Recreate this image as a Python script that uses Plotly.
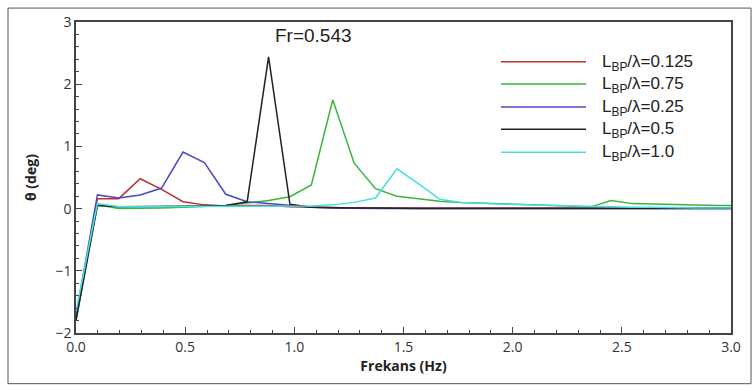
import plotly.graph_objects as go

# Frequency axis (Hz)
frekans = [0.0, 0.098, 0.196, 0.294, 0.392, 0.49, 0.588, 0.686, 0.784, 0.882,
           0.98, 1.078, 1.176, 1.274, 1.372, 1.47, 1.568, 1.666, 1.764, 1.862,
           1.96, 2.058, 2.156, 2.254, 2.352, 2.45, 2.548, 2.646, 2.744, 2.842,
           2.94, 3.0]

# Pitch response theta (deg) for each L_BP/lambda ratio
theta_0125 = [-1.78, 0.16, 0.16, 0.48, 0.31, 0.11, 0.06, 0.04, 0.05, 0.05,
              0.03, 0.02, 0.02, 0.01, 0.01, 0.01, 0.01, 0.01, 0.01, 0.01,
              0.01, 0.01, 0.01, 0.01, 0.01, 0.01, 0.01, 0.01, 0.01, 0.01,
              0.01, 0.01]
theta_075 = [-1.78, 0.06, 0.0, 0.0, 0.01, 0.02, 0.03, 0.05, 0.09, 0.13,
             0.19, 0.38, 1.75, 0.73, 0.32, 0.2, 0.16, 0.12, 0.1, 0.09,
             0.07, 0.06, 0.05, 0.04, 0.02, 0.13, 0.08, 0.07, 0.06, 0.05,
             0.05, 0.05]
theta_025 = [-1.72, 0.22, 0.17, 0.22, 0.33, 0.91, 0.74, 0.23, 0.11, 0.08,
             0.06, 0.02, 0.01, 0.0, 0.0, 0.0, 0.0, 0.0, 0.0, 0.0,
             0.0, 0.0, 0.0, 0.0, 0.0, 0.0, 0.0, 0.0, 0.0, 0.0,
             0.0, 0.0]
theta_05 = [-1.8, 0.05, 0.03, 0.03, 0.03, 0.03, 0.04, 0.05, 0.11, 2.44,
            0.07, 0.02, 0.01, 0.01, 0.01, 0.0, 0.0, 0.0, 0.0, 0.0,
            0.0, 0.0, 0.0, 0.0, 0.0, 0.0, 0.0, 0.0, 0.0, 0.0,
            0.0, 0.0]
theta_10 = [-1.65, 0.08, 0.03, 0.03, 0.03, 0.03, 0.03, 0.03, 0.03, 0.03,
            0.03, 0.04, 0.06, 0.1, 0.17, 0.64, 0.4, 0.15, 0.1, 0.08,
            0.07, 0.06, 0.05, 0.04, 0.03, 0.03, 0.02, 0.02, 0.01, 0.01,
            0.01, 0.01]

series_names = ["L<sub>BP</sub>/λ=0.125", "L<sub>BP</sub>/λ=0.75",
                "L<sub>BP</sub>/λ=0.25", "L<sub>BP</sub>/λ=0.5",
                "L<sub>BP</sub>/λ=1.0"]
series_values = [theta_0125, theta_075, theta_025, theta_05, theta_10]
series_colors = ["#c0302c", "#3cb43c", "#4a4ac4", "#222222", "#44e0e0"]

title_text = "Fr=0.543"
x_title = "Frekans (Hz)"
y_title = "θ (deg)"

W, H = 753, 387
L, R, T, B = 76, 22, 20, 54
pw, ph = W - L - R, H - T - B


def px_x(x):
    return (x - L) / pw


def px_y(y):
    return (H - B - y) / ph


fig = go.Figure()
for name, vals, col in zip(series_names, series_values, series_colors):
    fig.add_trace(go.Scatter(x=frekans, y=vals, mode="lines", name=name,
                             line=dict(color=col, width=1.5),
                             showlegend=False))

shapes = []
annotations = []

# outer frame
shapes.append(dict(type="rect", xref="paper", yref="paper",
                   x0=px_x(8), x1=px_x(751), y0=px_y(384), y1=px_y(6),
                   line=dict(color="#555555", width=1)))

# hand-placed legend
row_y = [60, 82.5, 105.5, 128, 151]
for name, col, ry in zip(series_names, series_colors, row_y):
    shapes.append(dict(type="line", xref="paper", yref="paper",
                       x0=px_x(501), x1=px_x(586), y0=px_y(ry), y1=px_y(ry),
                       line=dict(color=col, width=1.5)))
    annotations.append(dict(xref="paper", yref="paper", x=px_x(600),
                            y=px_y(ry + 1), xanchor="left", yanchor="middle",
                            text=name, showarrow=False,
                            font=dict(family="Liberation Sans, Arial",
                                      size=17, color="#222222")))

annotations.append(dict(xref="paper", yref="paper", x=px_x(313), y=px_y(34),
                        xanchor="center", yanchor="middle", text=title_text,
                        showarrow=False,
                        font=dict(family="Liberation Sans, Arial", size=19,
                                  color="#222222")))

axis_font = dict(family="Open Sans, Noto Sans", size=14, color="#333333")
title_font = dict(family="Open Sans, Noto Sans", size=14, color="#222222")

fig.update_layout(
    width=W, height=H,
    margin=dict(l=L, r=R, t=T, b=B),
    paper_bgcolor="white", plot_bgcolor="white",
    shapes=shapes, annotations=annotations,
    xaxis=dict(range=[0, 3], tickvals=[0, 0.5, 1.0, 1.5, 2.0, 2.5, 3.0],
               ticktext=["0.0", "0.5", "1.0", "1.5", "2.0", "2.5", "3.0"],
               ticks="inside", ticklen=6, tickwidth=1.2, tickcolor="#444",
               minor=dict(dtick=0.1, ticks="inside", ticklen=3,
                          tickcolor="#444", showgrid=False),
               showgrid=False, zeroline=False, showline=True,
               linecolor="#444", linewidth=1.5, mirror=True,
               tickfont=axis_font,
               title=dict(text="<b>" + x_title + "</b>", standoff=5,
                          font=title_font)),
    yaxis=dict(range=[-2, 3], tickvals=[-2, -1, 0, 1, 2, 3],
               ticks="inside", ticklen=6, tickwidth=1.2, tickcolor="#444",
               minor=dict(dtick=0.2, ticks="inside", ticklen=3,
                          tickcolor="#444", showgrid=False),
               showgrid=False, zeroline=False, showline=True,
               linecolor="#444", linewidth=1.5, mirror=True,
               tickfont=axis_font,
               title=dict(text="<b>" + y_title + "</b>", standoff=16,
                          font=title_font)),
)

fig.write_html("out.html")
